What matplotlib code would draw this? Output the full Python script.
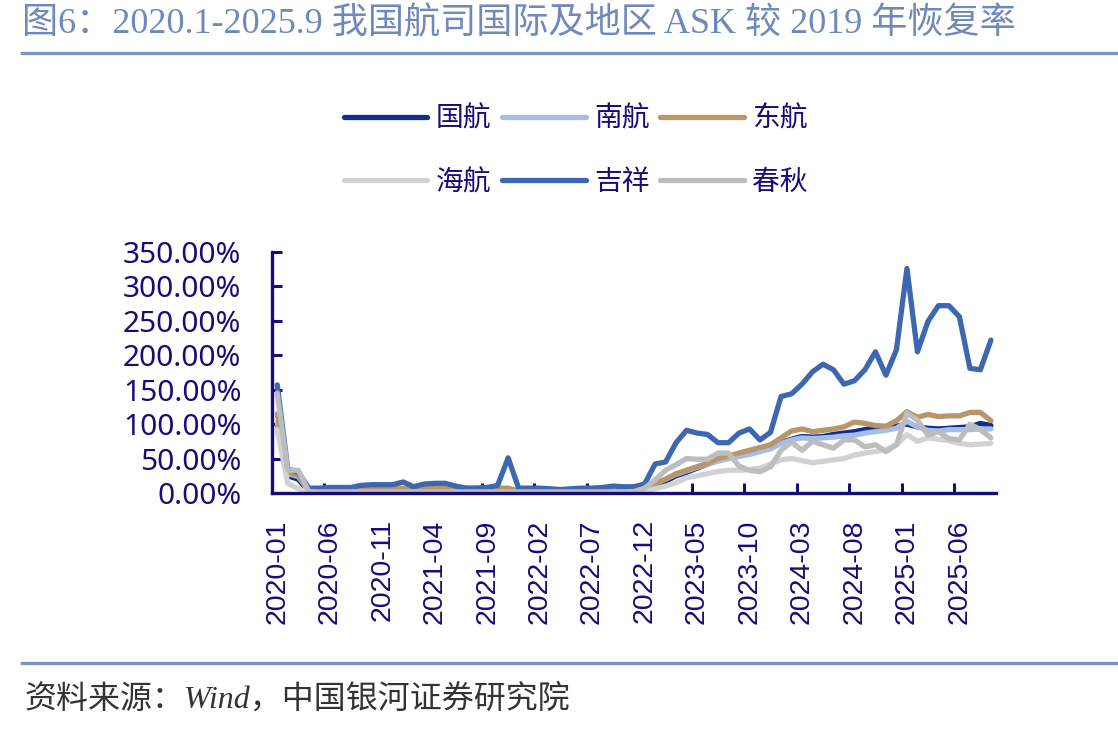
import matplotlib
matplotlib.use('Agg')
import matplotlib.pyplot as plt
import numpy as np

plt.rcParams['font.family'] = ['Noto Sans CJK SC', 'DejaVu Sans']

# monthly, 2020-01 .. 2025-09 (%, vs same month 2019)
months = ['%d-%02d' % (2020 + k // 12, k % 12 + 1) for k in range(69)]

guohang = [100, 25, 20, 2, 1, 1, 1, 1, 1, 1, 1, 1, 1, 1, 1, 1, 1, 1, 1, 1, 1, 1, 1, 1,
           1, 1, 1, 1, 1, 1, 1, 1, 1, 1, 2,
           6, 10, 17, 25, 30, 36, 42, 48, 52, 55, 59, 62, 66, 73, 78, 82, 81, 82, 85, 87,
           89, 92, 94, 95, 97, 100, 96, 94, 93, 94, 95, 96, 101, 98]
nanhang = [102, 28, 24, 3, 3, 3, 3, 3, 3, 4, 4, 4, 4, 4, 4, 4, 4, 4, 4, 4, 4, 4, 4, 3,
           3, 3, 3, 3, 3, 3, 3, 3, 3, 3, 4,
           8, 14, 20, 27, 32, 37, 42, 46, 50, 53, 56, 60, 64, 72, 77, 80, 79, 80, 81, 83,
           84, 87, 89, 91, 94, 104, 96, 91, 90, 92, 92, 92, 93, 93]
donghang = [115, 30, 26, 3, 3, 3, 4, 4, 5, 5, 6, 7, 7, 7, 7, 7, 7, 7, 7, 7, 7, 7, 7, 3,
            3, 3, 3, 3, 3, 3, 3, 3, 3, 3, 4,
            8, 13, 20, 28, 33, 38, 43, 50, 54, 58, 62, 66, 70, 80, 90, 93, 89, 91, 93, 96,
            103, 101, 98, 97, 105, 118, 110, 114, 111, 112, 112, 117, 117, 105]
haihang = [92, 14, 6, 0.5, 0.5, 0.5, 0.5, 0.5, 0.5, 0.5, 0.5, 0.5, 0.5, 0.5, 0.5, 0.5, 0.5,
           0.5, 0.5, 0.5, 0.5, 0.5, 0.5, 0.5, 0.5, 0.5, 0.5, 0.5, 0.5, 0.5, 0.5, 0.5, 0.5,
           0.5, 1,
           3, 6, 10, 15, 22, 25, 28, 31, 33, 33, 34, 36, 42, 48, 50, 47, 44, 46, 48, 50,
           55, 58, 60, 63, 70, 85, 75, 80, 78, 76, 72, 70, 71, 72]
jixiang = [157, 35, 30, 7, 7, 8, 8, 8, 11, 12, 12, 12, 16, 9, 13, 14, 14, 10, 7, 7, 8, 11,
           51, 7, 7, 7, 6, 5, 6, 7, 7, 8, 10, 9, 9,
           13, 42, 45, 73, 91, 87, 85, 73, 73, 87, 93, 77, 88, 140, 144, 158, 176, 187, 179,
           158, 163, 179, 205, 171, 208, 326, 205, 249, 272, 272, 256, 181, 179, 222]
chunqiu = [145, 33, 33, 2, 1.5, 1.5, 1.5, 1.5, 1.5, 1.5, 1.5, 1.5, 1.5, 1.5, 1.5, 1.5, 1.5,
           1.5, 1.5, 1.5, 1.5, 1.5, 1.5, 1.5, 1.5, 1.5, 1.5, 1.5, 1.5, 1.5, 1.5, 1.5, 1.5,
           1.5, 2,
           7, 19, 33, 41, 50, 49, 49, 58, 58, 39, 33, 31, 38, 62, 74, 62, 75, 70, 65, 77,
           77, 67, 70, 60, 70, 116, 106, 84, 89, 79, 77, 100, 92, 80]

names = ['国航', '南航', '东航', '海航', '吉祥', '春秋']
series = [guohang, nanhang, donghang, haihang, jixiang, chunqiu]
colors = ['#0f2f8a', '#a6bde6', '#b8966a', '#d2d2d2', '#3d67b1', '#bdbdbd']

navy = '#170c79'
x = np.arange(len(months))

fig = plt.figure(figsize=(11.18, 7.30), dpi=100)
ax = fig.add_axes([0.2433, 0.3247, 0.6477, 0.3301])

handles = {}
for name, vals, c in zip(names, series, colors):
    ln, = ax.plot(x, vals, color=c, lw=3.8, solid_joinstyle='round', solid_capstyle='round')
    handles[name] = ln

ax.set_xlim(-0.5, len(months) - 0.5)
ax.set_ylim(0, 350)
ax.set_yticks(np.arange(0, 351, 50))
ax.set_yticklabels(['%.2f%%' % v for v in np.arange(0, 351, 50)],
                   fontsize=21.5, color=navy, family='Noto Sans')
ax.set_xticks(x[::5])
ax.set_xticklabels(months[::5], rotation=90, fontsize=20.5, color=navy,
                   family='Liberation Sans')
ax.set_xticks(np.arange(4.5, len(months) - 1, 5), minor=True)
ax.tick_params(axis='x', which='major', length=0, pad=19)
ax.tick_params(axis='x', which='minor', direction='in', length=7, width=2.2, color=navy)
ax.tick_params(axis='y', direction='in', length=7, width=2.2, color=navy, pad=22)
for s in ['top', 'right']:
    ax.spines[s].set_visible(False)
for s in ['left', 'bottom']:
    ax.spines[s].set_color(navy)
    ax.spines[s].set_linewidth(2.4)

order = ['国航', '海航', '南航', '吉祥', '东航', '春秋']
fig.legend([handles[n] for n in order], order, loc='center', ncol=3,
           bbox_to_anchor=(0.515, 0.794), frameon=False, fontsize=20,
           labelcolor=navy, handlelength=3.0, handletextpad=0.3,
           columnspacing=0.4, labelspacing=1.2)

# title, rules, source
fig.text(0.02, 0.967, '图6：2020.1-2025.9 我国航司国际及地区 ASK 较 2019 年恢复率',
         fontsize=26, color='#7089bd', va='center', ha='left',
         family=['Liberation Serif', 'Noto Sans CJK SC'])
fig.add_artist(plt.Line2D([0.02, 1.0], [0.928, 0.928], color='#7b93c3', lw=2.4))
fig.add_artist(plt.Line2D([0.02, 1.0], [0.092, 0.092], color='#7b93c3', lw=2.4))
fig.text(0.022, 0.042, '资料来源：Wind，中国银河证券研究院', fontsize=23, color='#333333',
         va='center', ha='left', style='italic',
         family=['Liberation Serif', 'Noto Sans CJK SC'])

fig.savefig('out.png', dpi=100)
